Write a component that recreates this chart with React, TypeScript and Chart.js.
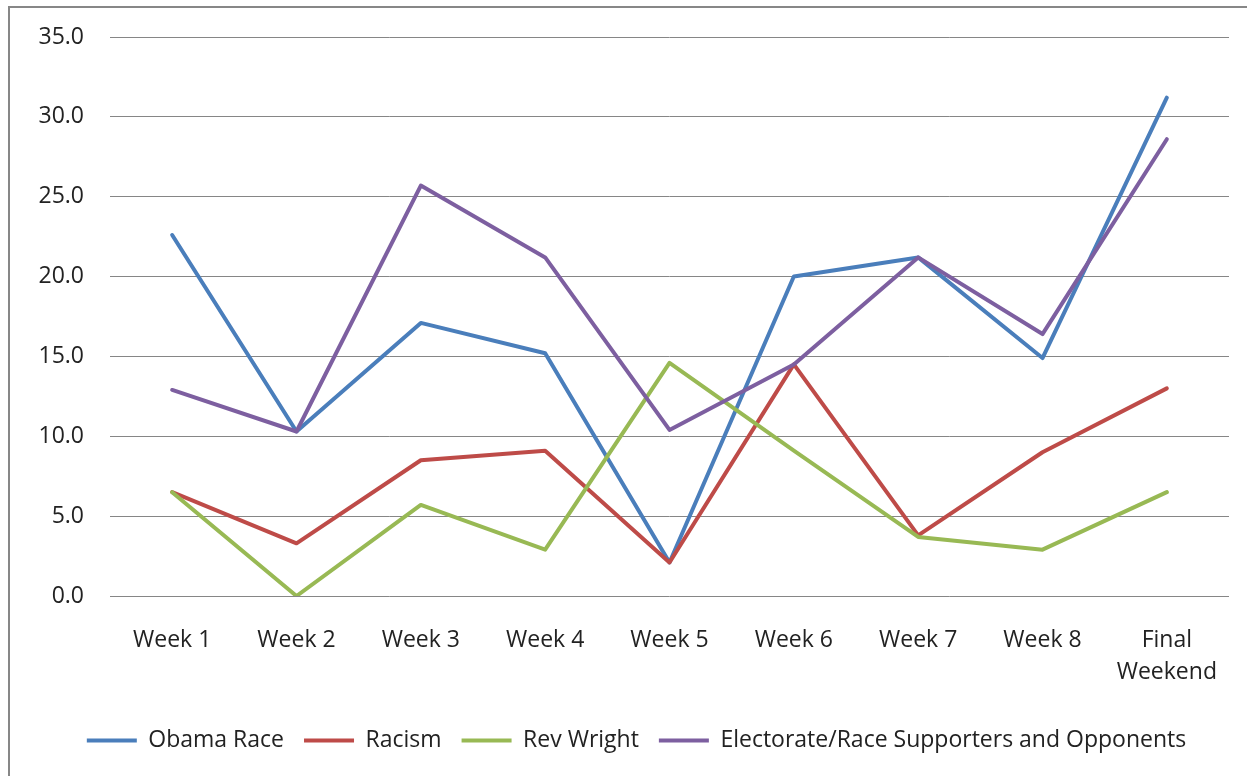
import React, { useEffect, useRef } from "react";
import { Chart, registerables } from "chart.js";

Chart.register(...registerables);

const categories: (string | string[])[] = [
  "Week 1", "Week 2", "Week 3", "Week 4", "Week 5", "Week 6", "Week 7", "Week 8", ["Final", "Weekend"],
];
const obamaRace = [22.6, 10.3, 17.1, 15.2, 2.1, 20.0, 21.2, 14.9, 31.2];
const racism = [6.5, 3.3, 8.5, 9.1, 2.1, 14.5, 3.8, 9.0, 13.0];
const revWright = [6.5, 0.0, 5.7, 2.9, 14.6, 9.1, 3.7, 2.9, 6.5];
const electorate = [12.9, 10.3, 25.7, 21.2, 10.4, 14.5, 21.2, 16.4, 28.6];
const seriesNames = ["Obama Race", "Racism", "Rev Wright", "Electorate/Race Supporters and Opponents"];
const seriesColors = ["#4A7EBB", "#BE4B48", "#98B954", "#7D5FA0"];

const FONT = "'Open Sans', sans-serif";

const legendShift = {
  id: "legendShift",
  afterLayout(chart: any) {
    const lg = chart.legend;
    if (lg) {
      lg.left += 17;
      lg.right += 17;
    }
  },
};

export default function App() {
  const ref = useRef<HTMLCanvasElement | null>(null);
  useEffect(() => {
    if (!ref.current) return;
    const values = [obamaRace, racism, revWright, electorate];
    const chart = new Chart(ref.current, {
      type: "line",
      data: {
        labels: categories,
        datasets: values.map((v, i) => ({
          label: seriesNames[i],
          data: v,
          borderColor: seriesColors[i],
          backgroundColor: seriesColors[i],
          borderWidth: 4,
          pointRadius: 0,
          pointHoverRadius: 0,
          pointStyle: "line",
          tension: 0,
          borderCapStyle: "round",
          borderJoinStyle: "round",
          fill: false,
          order: 3 - i,
        })),
      },
      plugins: [legendShift],
      options: {
        animation: false,
        responsive: false,
        maintainAspectRatio: false,
        layout: { padding: { top: 29, right: 33, bottom: 14, left: 0 } },
        plugins: {
          tooltip: { enabled: false },
          legend: {
            position: "bottom",
            labels: {
              usePointStyle: true,
              pointStyle: "line",
              pointStyleWidth: 50,
              padding: 20,
              color: "#222",
              font: { family: FONT, size: 23 },
              sort: (a: any, b: any) => a.datasetIndex - b.datasetIndex,
            },
          },
        },
        scales: {
          x: {
            offset: true,
            grid: { display: false, drawTicks: false },
            border: { display: false },
            ticks: {
              padding: 28,
              color: "#222",
              maxRotation: 0,
              autoSkip: false,
              font: { family: FONT, size: 23, lineHeight: 1.4 },
            },
            afterFit: (s: any) => { s.height = 113; },
          },
          y: {
            min: 0,
            max: 35,
            grid: {
              color: "#868686",
              lineWidth: 1,
              drawTicks: true,
              tickLength: 26,
              tickColor: "rgba(0,0,0,0)",
            },
            border: { display: false },
            ticks: {
              stepSize: 5,
              padding: 0,
              color: "#222",
              font: { family: FONT, size: 23 },
              callback: (v: any) => Number(v).toFixed(1),
            },
            afterFit: (s: any) => { s.width = 100; },
          },
        },
      },
    });
    return () => chart.destroy();
  }, []);

  return (
    <div
      style={{
        position: "fixed",
        left: 8,
        top: 6,
        width: 1270,
        height: 800,
        borderTop: "2px solid #878787",
        borderLeft: "2px solid #878787",
        background: "#fff",
      }}
    >
      <canvas ref={ref} width={1252} height={768} style={{ display: "block" }} />
    </div>
  );
}
